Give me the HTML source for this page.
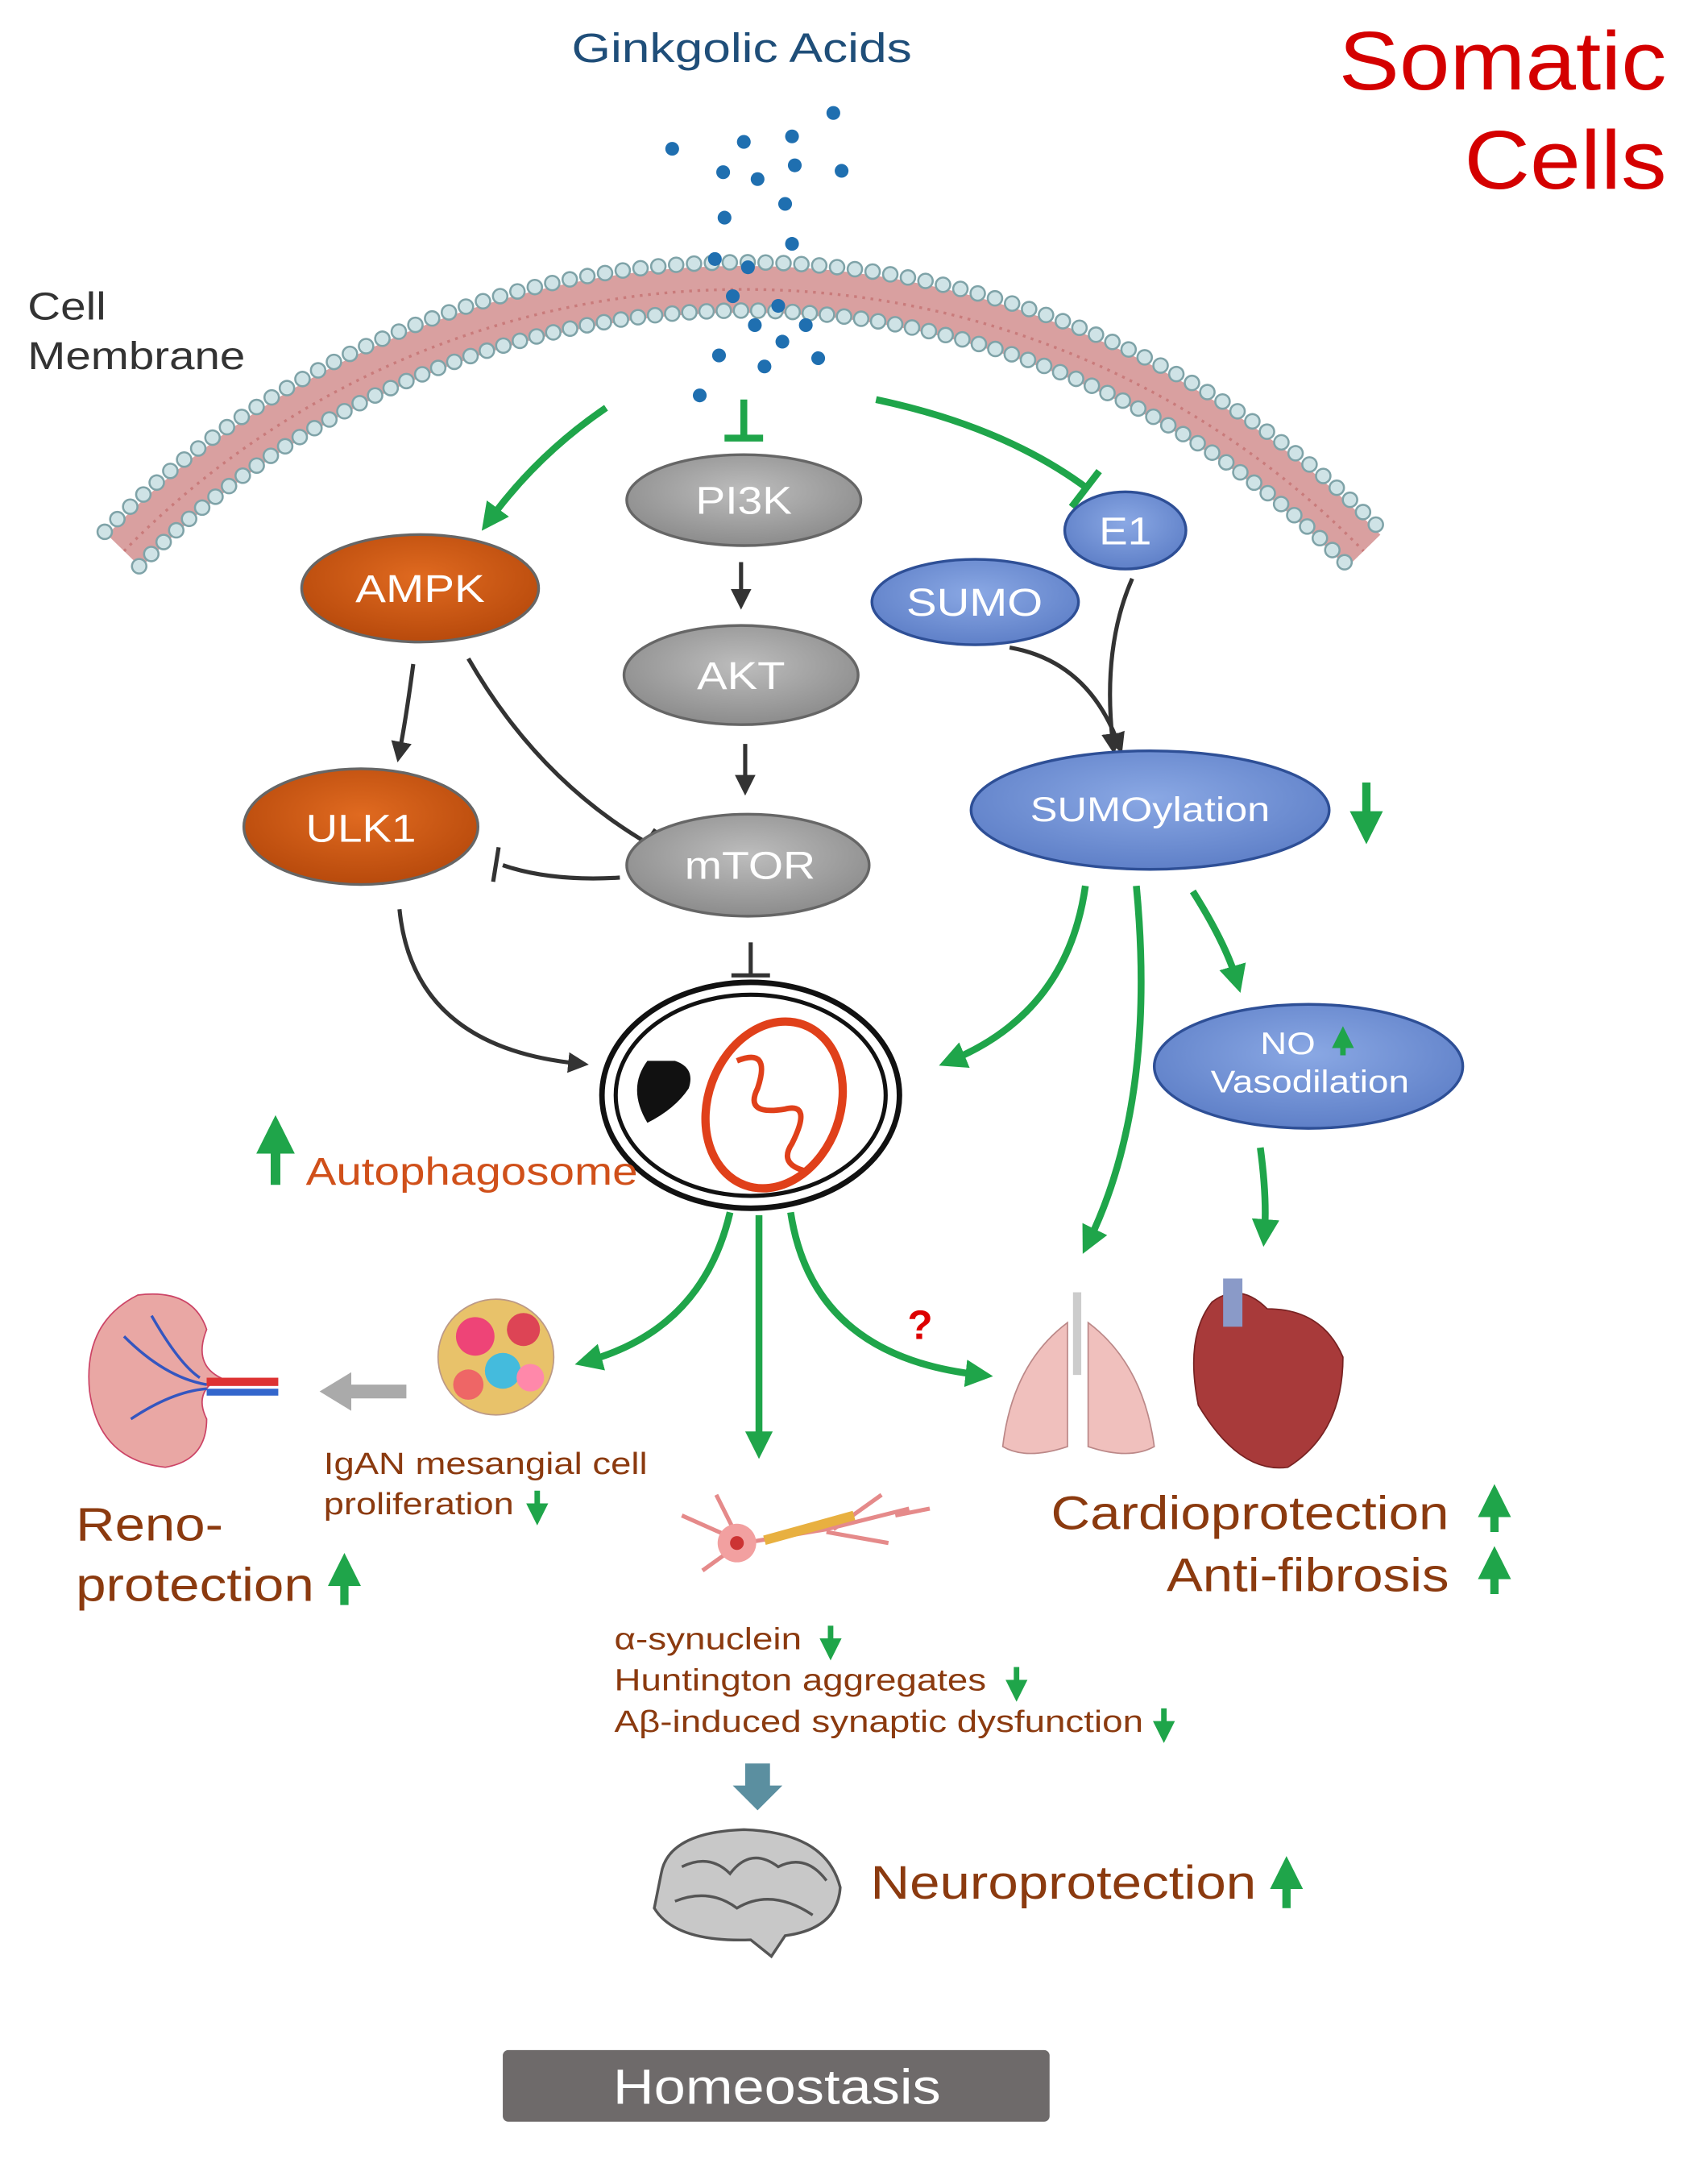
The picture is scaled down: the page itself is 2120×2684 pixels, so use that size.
<!DOCTYPE html>
<html><head><meta charset="utf-8"><style>
html,body{margin:0;padding:0;background:#fff}
svg{display:block}
text{font-family:"Liberation Sans",sans-serif}
</style></head><body>
<svg width="2120" height="2684" viewBox="0 0 1240 1570" xmlns="http://www.w3.org/2000/svg">
<defs>
<marker id="g" markerWidth="4" markerHeight="4" refX="2.2" refY="2" orient="auto" markerUnits="strokeWidth"><path d="M0,0 L4,2 L0,4 z" fill="#1fa54a"/></marker>
<marker id="k" markerWidth="5" markerHeight="5" refX="2.5" refY="2.5" orient="auto" markerUnits="strokeWidth"><path d="M0,0 L5,2.5 L0,5 z" fill="#333"/></marker>
<radialGradient id="gr" cx="50%" cy="40%" r="60%"><stop offset="0" stop-color="#bdbdbd"/><stop offset="1" stop-color="#8c8c8c"/></radialGradient>
<radialGradient id="or" cx="50%" cy="40%" r="60%"><stop offset="0" stop-color="#e06a20"/><stop offset="1" stop-color="#b84a0c"/></radialGradient>
<radialGradient id="bl" cx="50%" cy="40%" r="60%"><stop offset="0" stop-color="#8aa8e4"/><stop offset="1" stop-color="#5f80c8"/></radialGradient>
</defs>

<text x="415" y="45" font-size="30" fill="#1f4e79" textLength="247" lengthAdjust="spacingAndGlyphs">Ginkgolic Acids</text>
<text x="972" y="65" font-size="60" fill="#d40000" textLength="238" lengthAdjust="spacingAndGlyphs">Somatic</text>
<text x="1063" y="137" font-size="60" fill="#d40000" textLength="147" lengthAdjust="spacingAndGlyphs">Cells</text>
<text x="20" y="232" font-size="28" fill="#333" textLength="57" lengthAdjust="spacingAndGlyphs">Cell</text>
<text x="20" y="268" font-size="28" fill="#333" textLength="158" lengthAdjust="spacingAndGlyphs">Membrane</text>

<!-- membrane -->
<path d="M90,400 A628,628 0 0 1 990,400" fill="none" stroke="#d9a0a0" stroke-width="34"/>
<path d="M90,400 A628,628 0 0 1 990,400" fill="none" stroke="#c97b7b" stroke-width="2" stroke-dasharray="2 4"/>
<path d="M76,386 A648,648 0 0 1 1004,386" fill="none" stroke="#7fa3a8" stroke-width="12" stroke-linecap="round" stroke-dasharray="0 13"/>
<path d="M76,386 A648,648 0 0 1 1004,386" fill="none" stroke="#cfe3e6" stroke-width="9" stroke-linecap="round" stroke-dasharray="0 13"/>
<path d="M101,411 A612,612 0 0 1 979,411" fill="none" stroke="#7fa3a8" stroke-width="12" stroke-linecap="round" stroke-dasharray="0 12.5"/>
<path d="M101,411 A612,612 0 0 1 979,411" fill="none" stroke="#cfe3e6" stroke-width="9" stroke-linecap="round" stroke-dasharray="0 12.5"/>

<!-- dots -->
<g fill="#1f6fb0">
<circle cx="488" cy="108" r="5"/><circle cx="540" cy="103" r="5"/><circle cx="575" cy="99" r="5"/><circle cx="605" cy="82" r="5"/>
<circle cx="525" cy="125" r="5"/><circle cx="550" cy="130" r="5"/><circle cx="577" cy="120" r="5"/><circle cx="611" cy="124" r="5"/>
<circle cx="526" cy="158" r="5"/><circle cx="570" cy="148" r="5"/><circle cx="519" cy="188" r="5"/><circle cx="543" cy="194" r="5"/><circle cx="575" cy="177" r="5"/>
<circle cx="532" cy="215" r="5"/><circle cx="565" cy="222" r="5"/><circle cx="548" cy="236" r="5"/><circle cx="585" cy="236" r="5"/>
<circle cx="568" cy="248" r="5"/><circle cx="522" cy="258" r="5"/><circle cx="555" cy="266" r="5"/><circle cx="594" cy="260" r="5"/><circle cx="508" cy="287" r="5"/>
</g>

<g fill="none" stroke="#1fa54a" stroke-width="5">
<path d="M440,296 Q390,330 355,378" marker-end="url(#g)"/>
<path d="M540,290 L540,318"/><path d="M526,318 L554,318"/>
<path d="M636,290 Q730,310 790,355"/><path d="M778,368 L798,342"/>
<path d="M788,643 Q775,735 690,770" marker-end="url(#g)"/>
<path d="M825,643 Q840,800 790,902" marker-end="url(#g)"/>
<path d="M866,647 Q890,685 898,712" marker-end="url(#g)"/>
<path d="M915,833 Q920,870 918,896" marker-end="url(#g)"/>
<path d="M530,880 Q510,965 426,988" marker-end="url(#g)"/>
<path d="M551,882 L551,1050" marker-end="url(#g)"/>
<path d="M574,880 Q590,985 712,998" marker-end="url(#g)"/>
</g>

<g fill="none" stroke="#333" stroke-width="3">
<path d="M538,408 L538,435" marker-end="url(#k)"/>
<path d="M541,540 L541,570" marker-end="url(#k)"/>
<path d="M300,482 Q295,520 290,546" marker-end="url(#k)"/>
<path d="M340,478 Q390,565 470,612"/><path d="M462,622 L476,602"/>
<path d="M450,637 Q400,640 365,628"/><path d="M362,615 L358,640"/>
<path d="M290,660 Q300,760 420,772" marker-end="url(#k)"/>
<path d="M545,684 L545,708"/><path d="M531,708 L559,708"/>
<path d="M733,470 Q790,480 812,540" marker-end="url(#k)"/>
<path d="M822,420 Q800,470 808,540" marker-end="url(#k)"/>
</g>

<g stroke="#666" stroke-width="2">
<ellipse cx="540" cy="363" rx="85" ry="33" fill="url(#gr)"/>
<ellipse cx="538" cy="490" rx="85" ry="36" fill="url(#gr)"/>
<ellipse cx="543" cy="628" rx="88" ry="37" fill="url(#gr)"/>
<ellipse cx="305" cy="427" rx="86" ry="39" fill="url(#or)"/>
<ellipse cx="262" cy="600" rx="85" ry="42" fill="url(#or)"/>
<ellipse cx="817" cy="385" rx="44" ry="28" fill="url(#bl)" stroke="#2e4f96"/>
<ellipse cx="708" cy="437" rx="75" ry="31" fill="url(#bl)" stroke="#2e4f96"/>
<ellipse cx="835" cy="588" rx="130" ry="43" fill="url(#bl)" stroke="#2e4f96"/>
<ellipse cx="950" cy="774" rx="112" ry="45" fill="url(#bl)" stroke="#2e4f96"/>
</g>
<g fill="#fff" font-size="28" lengthAdjust="spacingAndGlyphs">
<text x="505" y="373" textLength="70" lengthAdjust="spacingAndGlyphs">PI3K</text>
<text x="506" y="500" textLength="64" lengthAdjust="spacingAndGlyphs">AKT</text>
<text x="497" y="638" textLength="95" lengthAdjust="spacingAndGlyphs">mTOR</text>
<text x="258" y="437" textLength="94" lengthAdjust="spacingAndGlyphs">AMPK</text>
<text x="222" y="611" textLength="80" lengthAdjust="spacingAndGlyphs">ULK1</text>
<text x="798" y="395" textLength="38" lengthAdjust="spacingAndGlyphs">E1</text>
<text x="658" y="447" textLength="99" lengthAdjust="spacingAndGlyphs">SUMO</text>
<text x="748" y="596" font-size="25" textLength="174" lengthAdjust="spacingAndGlyphs">SUMOylation</text>
<text x="915" y="765" font-size="23" textLength="40" lengthAdjust="spacingAndGlyphs">NO</text>
<text x="879" y="793" font-size="23" textLength="144" lengthAdjust="spacingAndGlyphs">Vasodilation</text>
</g>
<path d="M975,766 L975,752" stroke="#1fa54a" stroke-width="4" marker-end="url(#g)"/>
<path d="M992,568 L992,602" stroke="#1fa54a" stroke-width="6" marker-end="url(#g)"/>

<ellipse cx="545" cy="795" rx="108" ry="82" fill="#fff" stroke="#111" stroke-width="4"/>
<ellipse cx="545" cy="795" rx="98" ry="73" fill="none" stroke="#111" stroke-width="3"/>
<ellipse cx="562" cy="802" rx="48" ry="62" transform="rotate(20 562 802)" fill="#fff" stroke="#e0401a" stroke-width="6"/>
<path d="M535,770 Q560,760 550,790 Q540,810 570,805 Q590,800 575,830 Q565,845 585,850" fill="none" stroke="#e0401a" stroke-width="4"/>
<path d="M470,770 Q455,790 470,815 Q490,805 500,790 Q505,775 490,770 z" fill="#111"/>
<path d="M200,860 L200,822" stroke="#1fa54a" stroke-width="7" marker-end="url(#g)"/>
<text x="222" y="860" font-size="28" fill="#d0501a" textLength="241" lengthAdjust="spacingAndGlyphs">Autophagosome</text>

<path d="M100,940 Q60,960 65,1010 Q72,1060 120,1065 Q150,1060 150,1030 Q140,1010 160,1000 Q140,990 150,965 Q140,935 100,940 z" fill="#e9a7a4" stroke="#c46"/>
<path d="M90,970 Q120,1000 150,1005 M95,1030 Q125,1010 150,1008 M110,955 Q130,990 145,1000" stroke="#3456c0" stroke-width="2" fill="none"/>
<rect x="150" y="1000" width="52" height="6" fill="#d33"/><rect x="150" y="1008" width="52" height="5" fill="#36c"/>
<path d="M295,1005 L255,1005 L255,996 L232,1010 L255,1024 L255,1015 L295,1015 z" fill="#aaa"/>
<circle cx="360" cy="985" r="42" fill="#e8c26a" stroke="#b98"/>
<circle cx="345" cy="970" r="14" fill="#e47"/><circle cx="380" cy="965" r="12" fill="#d45"/>
<circle cx="365" cy="995" r="13" fill="#4bd"/><circle cx="340" cy="1005" r="11" fill="#e66"/><circle cx="385" cy="1000" r="10" fill="#f8a"/>
<text x="235" y="1070" font-size="22" fill="#8b3a0f" textLength="235" lengthAdjust="spacingAndGlyphs">IgAN mesangial cell</text>
<text x="235" y="1099" font-size="22" fill="#8b3a0f" textLength="138" lengthAdjust="spacingAndGlyphs">proliferation</text>
<path d="M390,1082 L390,1100" stroke="#1fa54a" stroke-width="4" marker-end="url(#g)"/>
<text x="55" y="1118" font-size="34" fill="#8b3a0f" textLength="107" lengthAdjust="spacingAndGlyphs">Reno-</text>
<text x="55" y="1162" font-size="34" fill="#8b3a0f" textLength="173" lengthAdjust="spacingAndGlyphs">protection</text>
<path d="M250,1165 L250,1138" stroke="#1fa54a" stroke-width="6" marker-end="url(#g)"/>

<path d="M775,960 Q735,990 728,1050 Q745,1060 775,1050 Z M790,960 Q830,990 838,1050 Q820,1060 790,1050 Z" fill="#f0c0bd" stroke="#b88"/>
<rect x="779" y="938" width="6" height="60" fill="#ccc"/>
<path d="M880,945 Q860,970 870,1020 Q900,1070 935,1065 Q975,1040 975,985 Q960,950 920,950 Q900,930 880,945 z" fill="#a83a3a" stroke="#722"/>
<rect x="888" y="928" width="14" height="35" fill="#8a9ac8"/>
<text x="763" y="1110" font-size="34" fill="#8b3a0f" textLength="289" lengthAdjust="spacingAndGlyphs">Cardioprotection</text>
<text x="847" y="1155" font-size="34" fill="#8b3a0f" textLength="205" lengthAdjust="spacingAndGlyphs">Anti-fibrosis</text>
<path d="M1085,1112 L1085,1088" stroke="#1fa54a" stroke-width="6" marker-end="url(#g)"/>
<path d="M1085,1157 L1085,1133" stroke="#1fa54a" stroke-width="6" marker-end="url(#g)"/>
<text x="668" y="972" font-size="30" fill="#d00" text-anchor="middle" font-weight="bold">?</text>

<path d="M495,1100 L540,1120 L600,1110 L660,1095 M510,1140 L535,1122 M520,1085 L535,1115 M605,1110 L640,1085 M645,1120 L600,1112 M650,1100 L675,1095" stroke="#e58a8a" stroke-width="3" fill="none"/>
<circle cx="535" cy="1120" r="14" fill="#f2a0a0"/><circle cx="535" cy="1120" r="5" fill="#c33"/>
<path d="M555,1118 L620,1100" stroke="#e8b040" stroke-width="7"/>
<text x="446" y="1197" font-size="22" fill="#8b3a0f" textLength="136" lengthAdjust="spacingAndGlyphs">α-synuclein</text>
<text x="446" y="1227" font-size="22" fill="#8b3a0f" textLength="270" lengthAdjust="spacingAndGlyphs">Huntington aggregates</text>
<text x="446" y="1257" font-size="22" fill="#8b3a0f" textLength="384" lengthAdjust="spacingAndGlyphs">Aβ-induced synaptic dysfunction</text>
<g stroke="#1fa54a" stroke-width="4">
<path d="M603,1180 L603,1198" marker-end="url(#g)"/><path d="M738,1210 L738,1228" marker-end="url(#g)"/><path d="M845,1240 L845,1258" marker-end="url(#g)"/>
</g>
<path d="M541,1280 L559,1280 L559,1296 L568,1296 L550,1314 L532,1296 L541,1296 z" fill="#5b8fa0"/>
<path d="M480,1360 Q485,1330 540,1328 Q600,1330 610,1370 Q608,1400 570,1405 L560,1420 L545,1408 Q490,1410 475,1385 z" fill="#c8c8c8" stroke="#555" stroke-width="2"/>
<path d="M495,1355 Q515,1345 530,1360 Q545,1340 565,1355 Q585,1345 600,1365 M490,1380 Q515,1370 535,1385 Q560,1370 590,1390" stroke="#555" stroke-width="2" fill="none"/>
<text x="632" y="1378" font-size="34" fill="#8b3a0f" textLength="280" lengthAdjust="spacingAndGlyphs">Neuroprotection</text>
<path d="M934,1385 L934,1358" stroke="#1fa54a" stroke-width="6" marker-end="url(#g)"/>

<rect x="365" y="1488" width="397" height="52" rx="4" fill="#6e6a6a"/>
<text x="445" y="1527" font-size="36" fill="#fff" textLength="238" lengthAdjust="spacingAndGlyphs">Homeostasis</text>
</svg>
</body></html>
